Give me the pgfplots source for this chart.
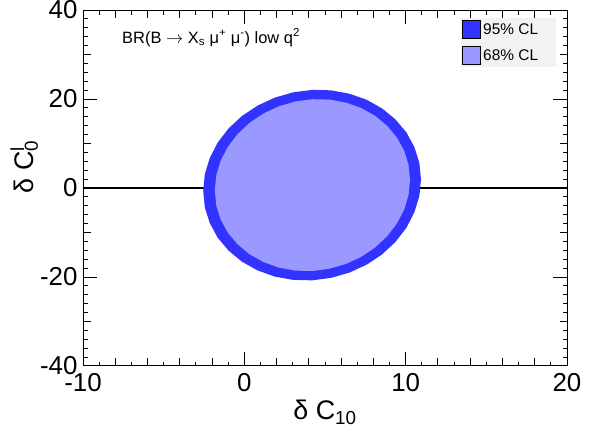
\documentclass[border=0pt]{standalone}
\usepackage{fontspec}
\setmainfont{Liberation Sans}
\usepackage{pgfplots}
\pgfplotsset{compat=1.18}

\definecolor{cl95}{RGB}{51,51,255}
\definecolor{cl68}{RGB}{153,153,255}
\definecolor{legbg}{RGB}{242,242,242}

% contour points (delta C10, delta C0)
\pgfplotstableread{
x y
10.95 1.95
10.85 5.65
10.54 9.19
10.05 12.48
9.37 15.40
8.54 17.88
7.58 19.83
6.51 21.20
5.37 21.95
4.20 22.05
3.03 21.50
1.89 20.31
0.83 18.53
-0.14 16.21
-0.97 13.41
-1.65 10.22
-2.14 6.75
-2.45 3.09
-2.55 -0.65
-2.45 -4.35
-2.14 -7.89
-1.65 -11.18
-0.97 -14.10
-0.14 -16.58
0.83 -18.53
1.89 -19.91
3.03 -20.65
4.20 -20.75
5.37 -20.20
6.51 -19.02
7.58 -17.23
8.54 -14.91
9.37 -12.11
10.05 -8.92
10.54 -5.45
10.85 -1.79
10.95 1.95
}\outer

\pgfplotstableread{
x y
10.27 1.85
10.18 5.18
9.91 8.38
9.46 11.34
8.85 13.98
8.11 16.21
7.25 17.96
6.29 19.20
5.27 19.87
4.22 19.95
3.17 19.45
2.15 18.38
1.20 16.76
0.33 14.66
-0.41 12.14
-1.02 9.26
-1.47 6.12
-1.74 2.82
-1.83 -0.55
-1.74 -3.88
-1.47 -7.08
-1.02 -10.04
-0.41 -12.68
0.33 -14.91
1.20 -16.66
2.15 -17.90
3.17 -18.57
4.22 -18.65
5.27 -18.15
6.29 -17.08
7.25 -15.46
8.11 -13.36
8.85 -10.84
9.46 -7.96
9.91 -4.82
10.18 -1.52
10.27 1.85
}\inner

\begin{document}
\begin{tikzpicture}
\path[use as bounding box] (0,0) rectangle (596bp,432bp);
\begin{axis}[
  at={(83bp,66bp)}, anchor=south west,
  scale only axis, width=484bp, height=356bp,
  xmin=-10, xmax=20, ymin=-40, ymax=40,
  xtick={-10,0,10,20}, ytick={-40,-20,0,20,40},
  minor x tick num=9, minor y tick num=9,
  extra x ticks={-8,-6,-4,-2,2,4,6,8,12,14,16,18},
  extra y ticks={-30,-10,10,30},
  extra x tick labels={}, extra y tick labels={},
  extra tick style={major tick length=7.5bp},
  major tick length=14bp, minor tick length=4.5bp,
  tick align=inside,
  axis line style={line width=1bp},
  tick style={black, line width=1bp},
  /pgf/number format/assume math mode=true,
  tick label style={font=\fontsize{26}{30}\selectfont},
  xticklabel style={yshift=-4bp},
  yticklabel style={xshift=-2bp},
  xlabel={δ C\textsubscript{10}},
  xlabel style={font=\fontsize{27}{32}\selectfont, at={(axis description cs:0.5,-0.15)}, anchor=base},
  ylabel={δ C\rlap{\textsuperscript{l}}\textsubscript{0}},
  ylabel style={font=\fontsize{27}{32}\selectfont, at={(axis description cs:-0.103,0.56)}, anchor=base},
  legend style={at={(axis description cs:0.781,0.978)}, anchor=north west,
    fill=legbg, draw=none, font=\fontsize{15.5}{18}\selectfont,
    inner xsep=1bp, inner ysep=2bp, row sep=7bp},
  legend cell align=left,
  legend image code/.code={\filldraw[#1, draw=black, line width=1bp] (0bp,-9bp) rectangle (18bp,9bp);},
]
\addplot[black, line width=1.6bp, forget plot] coordinates {(-10,0) (20,0)};
\addplot[fill=cl95, draw=none] table {\outer};
\addlegendentry{\makebox[70bp][l]{95\% CL}}
\addplot[fill=cl68, draw=none] table {\inner};
\addlegendentry{\makebox[70bp][l]{68\% CL}}
\node[anchor=base west, inner sep=0pt, font=\fontsize{16.5}{20}\selectfont] at (axis description cs:0.0806,0.907)
  {BR(B $\rightarrow$ X\textsubscript{s} μ\textsuperscript{+} μ\textsuperscript{-}) low q\textsuperscript{2}};
\end{axis}
\end{tikzpicture}
\end{document}
